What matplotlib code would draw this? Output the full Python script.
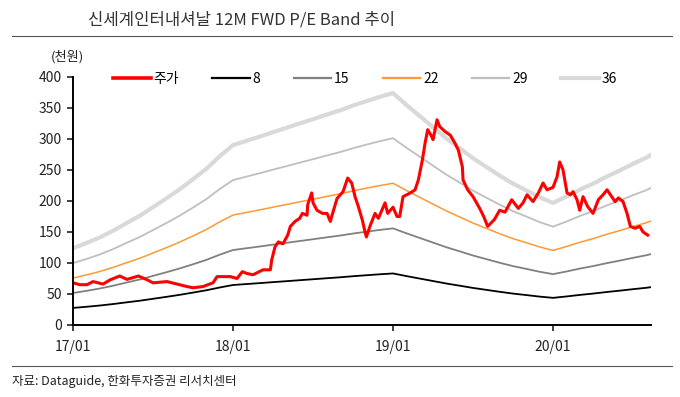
import numpy as np
import matplotlib
matplotlib.use("Agg")
import matplotlib.pyplot as plt
from matplotlib.lines import Line2D

plt.rcParams["font.family"] = ["Noto Sans CJK KR", "DejaVu Sans"]

TITLE = "신세계인터내셔날 12M FWD P/E Band 추이"
SOURCE = "자료: Dataguide, 한화투자증권 리서치센터"

# months counted from 2017/01
eps_months = list(range(44)) + [43.3]
eps = [3.44, 3.67, 3.92, 4.22, 4.56, 4.89, 5.28, 5.67, 6.08, 6.53, 7.00, 7.56,
       8.06, 8.25, 8.44, 8.64, 8.83, 9.03, 9.22, 9.42, 9.61, 9.83, 10.03, 10.22,
       10.39, 9.86, 9.36, 8.86, 8.36, 7.92, 7.47, 7.08, 6.69, 6.33, 6.03, 5.72,
       5.47, 5.75, 6.06, 6.33, 6.64, 6.92, 7.22, 7.50, 7.61]

pe_bands = [8, 15, 22, 29, 36]
band_colors = ["#000000", "#808080", "#FF9933", "#BFBFBF", "#D9D9D9"]
band_widths = [1.3, 1.3, 1.1, 1.3, 3.0]

price_months = [0, 0.5, 1.05, 1.5, 2.25, 2.8, 3.5, 4.05, 4.9, 5.55, 6.0, 7.05, 7.8, 8.55,
                9.0, 9.75, 10.5, 10.8, 11.55, 11.8, 12.3, 12.7, 13.05, 13.5, 14.25, 14.8,
                14.9, 15.15, 15.4, 15.75, 16.1, 16.3, 16.65, 17.0, 17.2, 17.55, 17.6, 17.9,
                18.0, 18.3, 18.7, 19.05, 19.3, 19.4, 19.8, 20.25, 20.6, 20.9, 21.15, 21.4,
                21.7, 21.9, 22.0, 22.3, 22.65, 22.9, 23.4, 23.6, 24.0, 24.3, 24.5, 24.75,
                25.3, 25.65, 25.9, 26.2, 26.4, 26.6, 26.9, 27.0, 27.3, 27.5, 27.9, 28.3,
                28.65, 28.9, 29.2, 29.25, 29.6, 30.0, 30.5, 30.8, 31.1, 31.6, 32.0, 32.4,
                32.9, 33.4, 33.75, 34.05, 34.5, 34.9, 35.25, 35.55, 36.0, 36.3, 36.5, 36.75,
                37.05, 37.3, 37.5, 37.8, 38.0, 38.25, 38.6, 39.0, 39.4, 39.75, 40.05, 40.4,
                40.65, 40.9, 41.25, 41.55, 41.8, 42.15, 42.5, 42.75, 43.1]
price = [68, 65, 65, 70, 66, 73, 79, 73.5, 79, 73, 68, 70, 66, 62,
         60, 62, 68, 78, 78, 78, 75, 86, 83, 81, 89, 89,
         105, 126, 134, 131, 145, 159, 167, 172, 180, 177, 194, 213,
         197, 185, 180, 180, 167, 175, 204, 215, 237, 229, 207, 191,
         169, 150, 142, 161, 180, 172, 197, 180, 190, 175, 175, 207,
         213, 218, 234, 266, 293, 315, 304, 299, 331, 320, 312, 306,
         293, 282, 255, 234, 218, 207, 188, 175, 159, 170, 185, 182,
         202, 188, 197, 210, 199, 213, 229, 218, 222, 239, 263, 250,
         213, 210, 215, 202, 185, 207, 191, 180, 202, 210, 218, 207,
         199, 205, 199, 180, 159, 156, 159, 150, 145]

x_ticks = [0, 12, 24, 36]
x_labels = ["17/01", "18/01", "19/01", "20/01"]
y_ticks = list(range(0, 401, 50))


def main():
    fig = plt.figure(figsize=(6.8, 3.97), dpi=100)
    ax = fig.add_axes([0.1074, 0.1814, 0.85, 0.6247])

    eps_arr = np.array(eps)
    for pe, color, lw in zip(pe_bands[::-1], band_colors[::-1], band_widths[::-1]):
        ax.plot(eps_months, eps_arr * pe, color=color, lw=lw)
    ax.plot(price_months, price, color="#FF0000", lw=2.2)

    ax.set_xlim(0, 43.35)
    ax.set_ylim(0, 400)
    ax.set_xticks(x_ticks)
    ax.set_xticklabels(x_labels)
    ax.set_yticks(y_ticks)
    ax.tick_params(axis="both", labelsize=10, colors="#222222", length=4, width=1.2, pad=4)
    ax.tick_params(axis="x", pad=7)
    for side in ["top", "right"]:
        ax.spines[side].set_visible(False)
    for side in ["left", "bottom"]:
        ax.spines[side].set_linewidth(1.4)
        ax.spines[side].set_color("#000000")

    handles = [Line2D([], [], color="#FF0000", lw=2.6)]
    for color, lw in zip(band_colors, band_widths):
        handles.append(Line2D([], [], color=color, lw=max(lw, 1.6)))
    labels = ["주가"] + [str(p) for p in pe_bands]
    ax.legend(handles, labels, loc="upper left", bbox_to_anchor=(0.048, 1.07), ncol=6,
              frameon=False, fontsize=10, handlelength=2.7, handletextpad=0.2,
              columnspacing=2.4)

    fig.text(67 / 680, 1 - 57 / 397, "(천원)", fontsize=9.5, ha="center", va="center",
             color="#222222")
    fig.text(88 / 680, 1 - 20 / 397, TITLE, fontsize=12, ha="left", va="center",
             color="#333333")
    fig.add_artist(Line2D([12 / 680, 672 / 680], [1 - 36 / 397, 1 - 36 / 397],
                          color="#555555", lw=0.8))
    fig.add_artist(Line2D([12 / 680, 672 / 680], [1 - 366 / 397, 1 - 366 / 397],
                          color="#555555", lw=0.8))
    fig.text(12 / 680, 1 - 381 / 397, SOURCE, fontsize=9, ha="left", va="center",
             color="#222222")

    fig.savefig("out.png", dpi=100)
    plt.close(fig)


if __name__ == "__main__":
    main()
